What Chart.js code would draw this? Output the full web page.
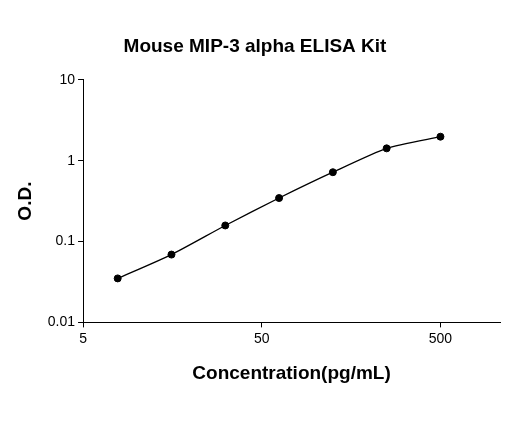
<!DOCTYPE html>
<html><head>
<script src="https://cdn.jsdelivr.net/npm/chart.js@4"></script>
<style>body{margin:0;background:#fff}#w{width:520px;height:421px}</style>
</head><body><div id="w"><canvas id="c"></canvas></div>
<script>
const concentrations = [7.8125, 15.625, 31.25, 62.5, 125, 250, 500];
const odValues = [0.035, 0.069, 0.158, 0.345, 0.72, 1.42, 1.98];
const xTicks = [5, 50, 500];
const yTicks = [0.01, 0.1, 1, 10];

const pts = concentrations.map((x, i) => ({x, y: odValues[i]}));
const axisFont = {family: 'Arial, Liberation Sans', size: 14};
const titleFont = {family: 'Arial, Liberation Sans', size: 19, weight: 'bold'};
new Chart(document.getElementById('c'), {
  type: 'scatter',
  data: {datasets: [
    {data: pts, showLine: true, tension: 0.2, borderColor: '#000', borderWidth: 1.3, pointRadius: 0},
    {data: pts, pointRadius: 3.5, backgroundColor: '#000', borderColor: '#000'}
  ]},
  options: {
    responsive: true, maintainAspectRatio: false, animation: false,
    layout: {padding: {right: 20, top: 7, left: 10, bottom: 32}},
    plugins: {
      legend: {display: false}, tooltip: {enabled: false},
      title: {display: true, text: 'Mouse MIP-3 alpha ELISA Kit', color: '#000',
        font: titleFont, padding: {top: 28, bottom: 22}}
    },
    scales: {
      x: {type: 'logarithmic', min: 5, max: 1077,
        afterBuildTicks: a => { a.ticks = xTicks.map(v => ({value: v})); },
        grid: {display: true, drawOnChartArea: false, drawTicks: true, tickLength: 5, color: '#000'},
        border: {color: '#000', width: 1},
        ticks: {color: '#000', font: axisFont, callback: v => v, maxRotation: 0},
        title: {display: true, text: 'Concentration(pg/mL)', color: '#000', font: titleFont, padding: {top: 12}}
      },
      y: {type: 'logarithmic', min: 0.01, max: 10,
        afterBuildTicks: a => { a.ticks = yTicks.map(v => ({value: v})); },
        grid: {display: true, drawOnChartArea: false, drawTicks: true, tickLength: 5, color: '#000'},
        border: {color: '#000', width: 1},
        ticks: {color: '#000', font: axisFont, callback: v => v},
        title: {display: true, text: 'O.D.', color: '#000', font: titleFont, padding: {bottom: 8}}
      }
    }
  }
});
</script></body></html>
